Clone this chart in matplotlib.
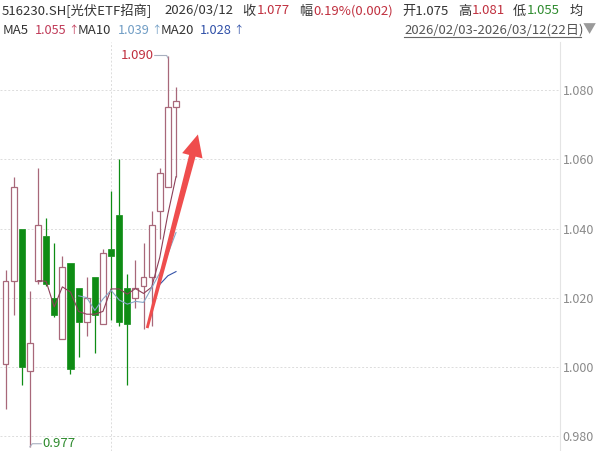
import numpy as np
import matplotlib
matplotlib.use('Agg')
import matplotlib.pyplot as plt
from matplotlib.lines import Line2D
from matplotlib.patches import Polygon

plt.rcParams['font.family'] = ['Noto Sans CJK SC', 'DejaVu Sans']

# daily OHLC, 2026/02/03 - 2026/03/12 (22 trading days)
opens = [1.001, 1.025, 1.040, 0.999, 1.025, 1.038, 1.020, 1.008, 1.030, 1.023, 1.013,
         1.026, 1.0125, 1.034, 1.044, 1.023, 1.020, 1.0234, 1.026, 1.045, 1.052, 1.075]
highs = [1.028, 1.055, 1.040, 1.022, 1.0575, 1.043, 1.036, 1.032, 1.030, 1.023, 1.026,
         1.026, 1.034, 1.051, 1.060, 1.027, 1.031, 1.036, 1.045, 1.0575, 1.090, 1.081]
lows = [0.988, 1.015, 0.995, 0.977, 1.024, 1.0235, 1.0145, 1.008, 0.998, 1.003, 1.009,
        1.004, 1.0125, 1.0136, 1.012, 0.995, 1.017, 1.011, 1.012, 1.037, 1.052, 1.055]
closes = [1.025, 1.052, 1.000, 1.007, 1.041, 1.024, 1.015, 1.029, 0.9995, 1.013, 1.020,
          1.015, 1.033, 1.032, 1.013, 1.0125, 1.023, 1.026, 1.041, 1.056, 1.075, 1.077]

nan = float('nan')
ma5 = [nan] * 4 + [1.025, 1.0248, 1.0174, 1.0232, 1.0217, 1.0161, 1.0153, 1.0153, 1.0161,
                   1.0226, 1.0226, 1.0211, 1.0227, 1.0213, 1.0231, 1.0317, 1.0442, 1.055]
ma10 = [nan] * 9 + [1.0206, 1.0201, 1.0164, 1.0197, 1.0222, 1.0194, 1.0182, 1.019,
                    1.0187, 1.0229, 1.0272, 1.0327, 1.0389]
ma20 = [nan] * 19 + [1.0239, 1.0264, 1.0276]

price_ticks = [0.980, 1.000, 1.020, 1.040, 1.060, 1.080]
month_break = 13  # 2026/03/02

UP = '#a8687a'
DOWN = '#0e8c14'
RED = '#c0303f'
GREEN = '#2e8b2e'
DARK = '#333333'
MA5_C, MA10_C, MA20_C = '#8c3f58', '#86a6c6', '#3553a8'

W, H = 600, 451
fig = plt.figure(figsize=(6, 4.51), dpi=100)
ax = fig.add_axes([0, 0, 560 / W, (H - 42) / H])
ax.set_xlim(-0.68, 68.3)
ax.set_ylim(0.9758, 1.0939)

# grid
for t in price_ticks:
    ax.axhline(t, color='#dcdcdc', lw=0.7, ls=(0, (2, 2)), zorder=0)
ax.axvline(month_break, color='#dcdcdc', lw=0.7, ls=(0, (2, 2)), zorder=0)

# candles
for i in range(len(closes)):
    o, h, l, c = opens[i], highs[i], lows[i], closes[i]
    up = c >= o
    col = UP if up else DOWN
    top, bot = max(o, c), min(o, c)
    ax.vlines(i, top, h, color=col, lw=0.9, zorder=3)
    ax.vlines(i, l, bot, color=col, lw=0.9, zorder=3)
    hgt = max(top - bot, 0.0004)
    if up:
        ax.bar(i, hgt, bottom=bot, width=0.72, facecolor='white',
               edgecolor=col, linewidth=0.9, zorder=4)
    else:
        ax.bar(i, hgt, bottom=bot, width=0.76, color=col,
               edgecolor=col, linewidth=0.5, zorder=4)

# moving averages
x = np.arange(len(closes))
ax.plot(x, ma5, color=MA5_C, lw=0.8, zorder=5)
ax.plot(x, ma10, color=MA10_C, lw=0.8, zorder=5)
ax.plot(x, ma20, color=MA20_C, lw=0.8, zorder=5)

# high / low markers
hi_i = int(np.argmax(highs))
lo_i = int(np.argmin(lows))
ax.text(hi_i - 1.7, highs[hi_i], f'{highs[hi_i]:.3f}', color=RED, fontsize=9.5,
        ha='right', va='center', zorder=6)
ax.plot([hi_i - 1.62, hi_i - 0.15, hi_i], [highs[hi_i], highs[hi_i], highs[hi_i] - 0.0007],
        color='#a8b0c0', lw=0.8, zorder=6)
ax.text(lo_i + 1.5, lows[lo_i] + 0.0011, f'{lows[lo_i]:.3f}', color=GREEN, fontsize=9.5,
        ha='left', va='center', zorder=6)
ax.plot([lo_i, lo_i + 0.3, lo_i + 1.4], [lows[lo_i], lows[lo_i] + 0.0009, lows[lo_i] + 0.0009],
        color='#a8b0c0', lw=0.8, zorder=6)

# red trend arrow, built in pixel space
tail = ax.transData.transform((17.45, 1.0113))
tip = ax.transData.transform((23.7, 1.0672))
d = tip - tail
L = np.hypot(*d)
u = d / L
n = np.array([-u[1], u[0]])
head_len, head_w, t0, t1 = 22, 10.5, 1.4, 3.3
base = tip - u * head_len
pts = [tail + n * t0, base + n * t1, base + n * head_w, tip,
       base - n * head_w, base - n * t1, tail - n * t0]
pts = ax.transData.inverted().transform(np.array(pts))
ax.add_patch(Polygon(pts, closed=True, facecolor='#ef4d4d', edgecolor='none', zorder=7))

# axes styling
ax.yaxis.tick_right()
ax.set_yticks(price_ticks)
ax.set_yticklabels([f'{t:.3f}' for t in price_ticks])
ax.tick_params(axis='y', length=0, pad=2, labelsize=9, labelcolor='#8a8a8a')
ax.set_xticks([])
for s in ['top', 'left', 'bottom']:
    ax.spines[s].set_visible(False)
ax.spines['right'].set_color('#e4e4e4')
ax.spines['right'].set_linewidth(0.8)

# header
def head(px, py, s, color=DARK, size=9.5):
    fig.text(px / W, 1 - py / H, s, color=color, fontsize=size, ha='left', va='center')

y1, y2 = 11, 30
head(2, y1, '516230.SH[光伏ETF招商]')
head(164, y1, '2026/03/12')
head(242, y1, '收')
head(257, y1, f'{closes[-1]:.3f}', RED)
head(299, y1, '幅')
head(313, y1, '0.19%(0.002)', RED)
head(402, y1, f'开{opens[-1]:.3f}')
head(458, y1, '高')
head(472, y1, f'{highs[-1]:.3f}', RED)
head(513, y1, '低')
head(527, y1, f'{lows[-1]:.3f}', GREEN)
head(570, y1, '均')

ma_items = [('MA5', ma5[-1], '#c03a58', 3, 35),
            ('MA10', ma10[-1], '#6f9cc4', 78, 118),
            ('MA20', ma20[-1], '#3050a8', 161, 200)]
for name, val, col, lx, vx in ma_items:
    head(lx, y2, name)
    head(vx, y2, f'{val:.3f}', col, size=9.2)
    head(vx + 33, y2 - 0.5, '↑', col, size=7.5)

head(404, y2, '2026/02/03-2026/03/12(22日)', '#555555')
fig.add_artist(Line2D([404 / W, 581 / W], [1 - 37 / H] * 2, color='#666666', lw=0.8))
head(583, y2, '▼', '#9a9a9a')

fig.savefig('out.png', dpi=100)
